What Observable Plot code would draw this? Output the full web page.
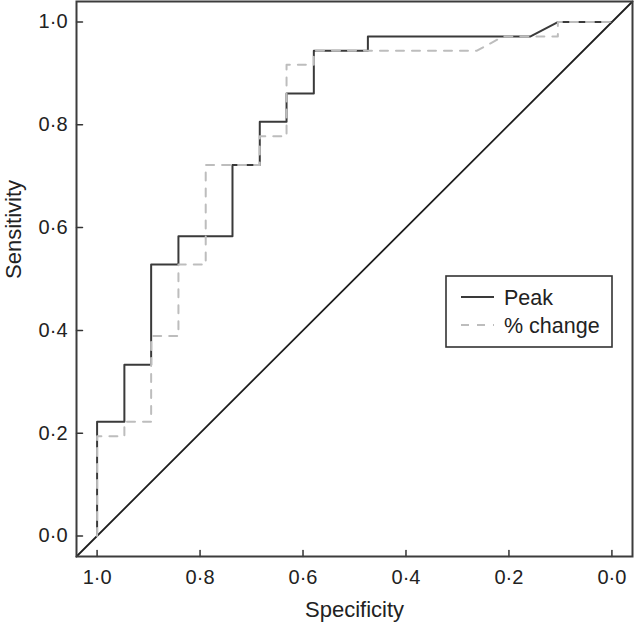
<!DOCTYPE html>
<html><head><meta charset="utf-8">
<script src="https://cdn.jsdelivr.net/npm/d3@7"></script>
<script src="https://cdn.jsdelivr.net/npm/@observablehq/plot@0.6"></script>
<style>body{margin:0;background:#fff;} #chart{position:relative;width:634px;height:624px;}</style>
</head><body><div id="chart"></div>
<script>
// ROC curve vertices (specificity, sensitivity)
const peakSpecificity = [1.000, 1.000, 0.947, 0.947, 0.895, 0.895, 0.842, 0.842, 0.737, 0.737, 0.684, 0.684, 0.632, 0.632, 0.579, 0.579, 0.474, 0.474, 0.158, 0.105, 0.000];
const peakSensitivity = [0.000, 0.222, 0.222, 0.333, 0.333, 0.528, 0.528, 0.583, 0.583, 0.722, 0.722, 0.806, 0.806, 0.861, 0.861, 0.944, 0.944, 0.972, 0.972, 1.000, 1.000];
const changeSpecificity = [1.000, 1.000, 0.947, 0.947, 0.895, 0.895, 0.842, 0.842, 0.789, 0.789, 0.684, 0.684, 0.632, 0.632, 0.579, 0.579, 0.263, 0.211, 0.105, 0.105, 0.000];
const changeSensitivity = [0.000, 0.194, 0.194, 0.222, 0.222, 0.389, 0.389, 0.528, 0.528, 0.722, 0.722, 0.778, 0.778, 0.917, 0.917, 0.944, 0.944, 0.972, 0.972, 1.000, 1.000];

const seriesNames = ["Peak", "% change"];
const xTicks = [1.0, 0.8, 0.6, 0.4, 0.2, 0.0];
const yTicks = [0.0, 0.2, 0.4, 0.6, 0.8, 1.0];
const xTitle = "Specificity";
const yTitle = "Sensitivity";

const domain = [-0.04, 1.04];
const fmt = d => d.toFixed(1).replace(".", "\u00B7");
const toRows = (xs, ys) => xs.map((x, i) => ({x, y: ys[i]}));
const peak = toRows(peakSpecificity, peakSensitivity);
const change = toRows(changeSpecificity, changeSensitivity);
const diagonal = domain.map(s => ({x: s, y: 1 - s}));

const styles = [
  {stroke: "#3a3a3a", strokeWidth: 2, dash: null},
  {stroke: "#bdbdbd", strokeWidth: 2, dash: "8,8"}
];
const tickShape = {draw(context, l) { context.moveTo(0, 0); context.lineTo(0, -l); }};

const plot = Plot.plot({
  width: 634, height: 624,
  marginLeft: 76, marginRight: 2, marginTop: 1, marginBottom: 68,
  style: {fontFamily: "'Liberation Sans', Arial, sans-serif", fontSize: "20px", color: "#222", background: "#fff"},
  x: {domain, reverse: true, label: null},
  y: {domain, label: null},
  marks: [
    Plot.line(diagonal, {x: "x", y: "y", stroke: "#1e1e1e", strokeWidth: 1.8}),
    Plot.line(peak, {x: "x", y: "y", stroke: styles[0].stroke, strokeWidth: styles[0].strokeWidth}),
    Plot.line(change, {x: "x", y: "y", stroke: styles[1].stroke, strokeWidth: styles[1].strokeWidth, strokeDasharray: styles[1].dash}),
    Plot.vector(xTicks, {x: d => d, frameAnchor: "bottom", length: 6, anchor: "start", rotate: 0, shape: tickShape, stroke: "#333", strokeWidth: 1.5}),
    Plot.vector(yTicks, {y: d => d, frameAnchor: "left", length: 6, anchor: "start", rotate: 90, shape: tickShape, stroke: "#333", strokeWidth: 1.5}),
    Plot.frame({stroke: "#3c3c3c", strokeWidth: 2}),
    Plot.axisX(xTicks, {tickFormat: fmt, tickSize: 0, tickPadding: 13.5, label: null}),
    Plot.axisY(yTicks, {tickFormat: fmt, tickSize: 0, tickPadding: 9, label: null}),
    Plot.text([xTitle], {frameAnchor: "bottom", dy: 60, lineAnchor: "bottom", fontSize: 22, fill: "#222"}),
    Plot.text([yTitle], {frameAnchor: "left", dx: -63, rotate: -90, fontSize: 22, fill: "#222"})
  ]
});
document.getElementById("chart").appendChild(plot);

// legend inside the plot
const svg = d3.select(plot);
const lg = svg.append("g").attr("transform", "translate(446,276)");
lg.append("rect").attr("width", 166).attr("height", 71).attr("fill", "#fff").attr("stroke", "#333").attr("stroke-width", 1.6);
seriesNames.forEach((name, i) => {
  const cy = 21 + i * 28;
  lg.append("line").attr("x1", 15).attr("x2", 48).attr("y1", cy).attr("y2", cy)
    .attr("stroke", styles[i].stroke).attr("stroke-width", styles[i].strokeWidth)
    .attr("stroke-dasharray", styles[i].dash);
  lg.append("text").attr("x", 58).attr("y", cy + 7.5).attr("font-size", 21.5).attr("fill", "#222")
    .attr("text-anchor", "start")
    .attr("font-family", "'Liberation Sans', Arial, sans-serif").text(name);
});
</script>
</body></html>
